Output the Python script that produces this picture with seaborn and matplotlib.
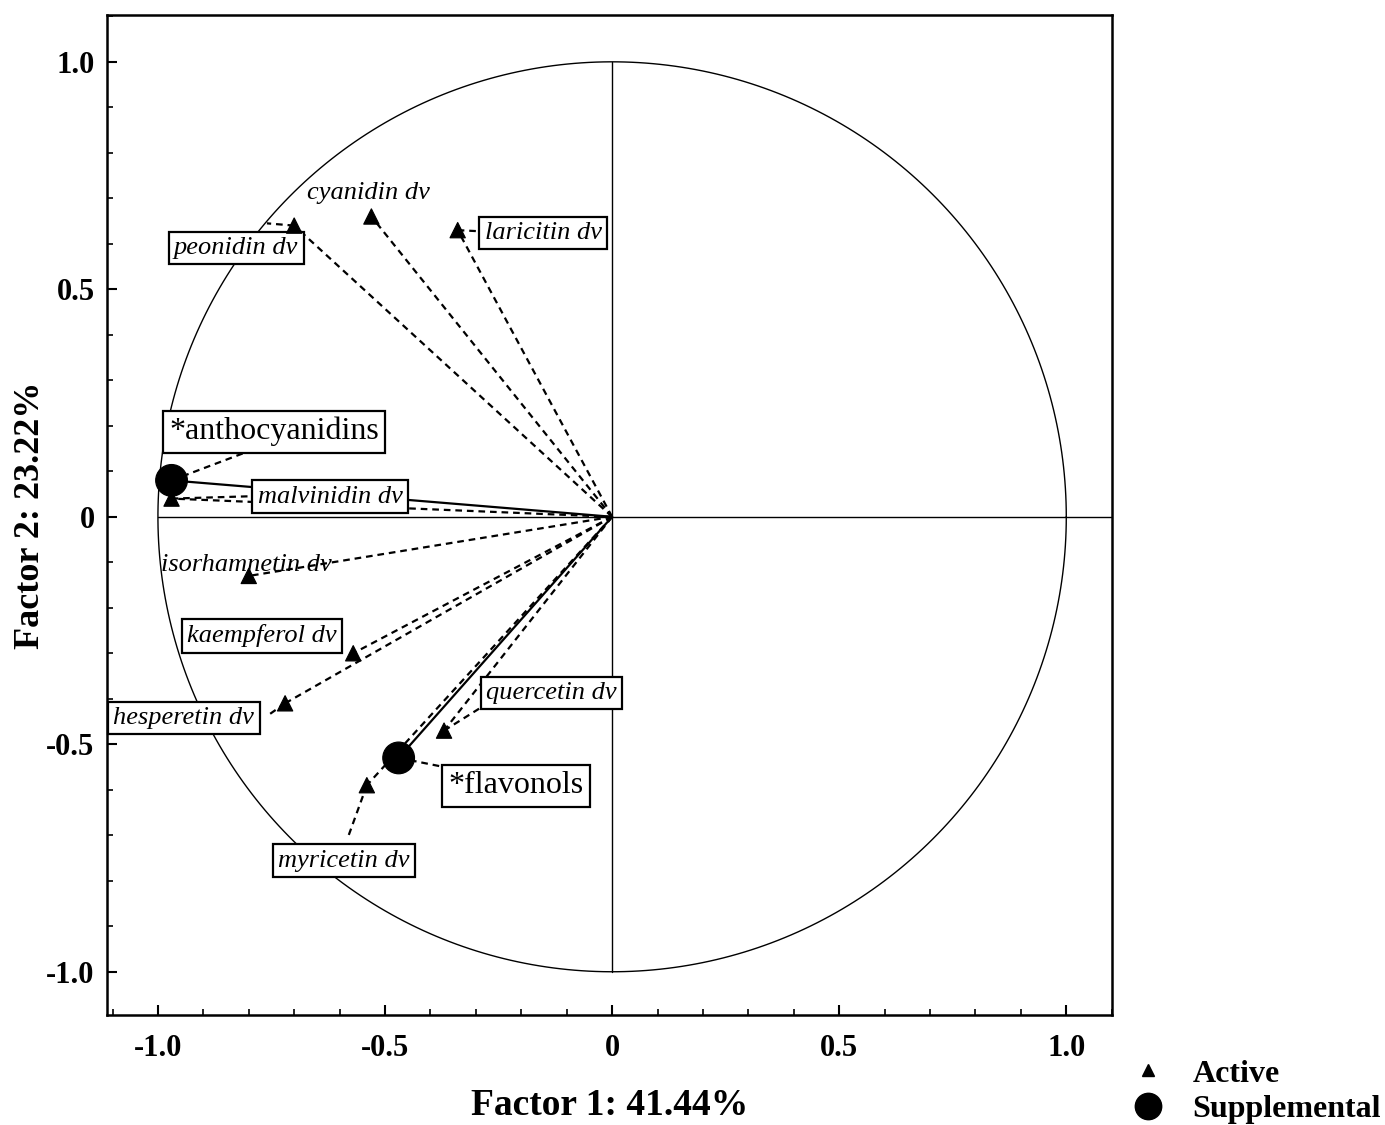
import numpy as np
import pandas as pd
import seaborn as sns
import matplotlib.pyplot as plt
from matplotlib.lines import Line2D
from matplotlib.ticker import MultipleLocator

# Factor loadings
active_names = ['peonidin dv', 'cyanidin dv', 'laricitin dv', 'malvinidin dv',
                'isorhamnetin dv', 'kaempferol dv', 'hesperetin dv',
                'quercetin dv', 'myricetin dv']
active_f1 = [-0.70, -0.53, -0.34, -0.97, -0.80, -0.57, -0.72, -0.37, -0.54]
active_f2 = [0.64, 0.66, 0.63, 0.04, -0.13, -0.30, -0.41, -0.47, -0.59]

supp_names = ['*anthocyanidins', '*flavonols']
supp_f1 = [-0.97, -0.47]
supp_f2 = [0.08, -0.53]

x_label = 'Factor 1: 41.44%'
y_label = 'Factor 2: 23.22%'
tick_vals = [-1.0, -0.5, 0, 0.5, 1.0]
tick_text = ['-1.0', '-0.5', '0', '0.5', '1.0']

# label layout: (x, y, boxed, connector end point) in data coords
label_layout = {
    'peonidin dv': (-0.828, 0.591, True, (-0.76, 0.645)),
    'cyanidin dv': (-0.537, 0.712, False, None),
    'laricitin dv': (-0.152, 0.624, True, (-0.30, 0.628)),
    'malvinidin dv': (-0.621, 0.044, True, (-0.80, 0.045)),
    'isorhamnetin dv': (-0.806, -0.105, False, None),
    'kaempferol dv': (-0.771, -0.262, True, None),
    'hesperetin dv': (-0.943, -0.442, True, (-0.76, -0.438)),
    'quercetin dv': (-0.134, -0.387, True, (-0.29, -0.42)),
    'myricetin dv': (-0.590, -0.756, True, (-0.58, -0.70)),
    '*anthocyanidins': (-0.744, 0.187, True, (-0.79, 0.148)),
    '*flavonols': (-0.211, -0.591, True, (-0.37, -0.55)),
}

df = pd.DataFrame({
    'f1': active_f1 + supp_f1,
    'f2': active_f2 + supp_f2,
    'name': active_names + supp_names,
    'type': ['Active'] * len(active_names) + ['Supplemental'] * len(supp_names),
})

sns.set_style('ticks', {'axes.edgecolor': 'black', 'text.color': 'black',
                        'axes.labelcolor': 'black', 'xtick.color': 'black',
                        'ytick.color': 'black'})
plt.rcParams['font.family'] = ['Liberation Serif', 'DejaVu Serif']

fig = plt.figure(figsize=(13.85, 11.25), dpi=100)
ax = fig.add_axes([0.0773, 0.0978, 0.7257, 0.8889])

# unit circle and reference axes
t = np.linspace(0, 2 * np.pi, 400)
ax.plot(np.cos(t), np.sin(t), color='black', lw=1.0, zorder=1)
ax.plot([-1.0, 1.12], [0, 0], color='black', lw=1.0, zorder=1)
ax.plot([0, 0], [-1.0, 1.0], color='black', lw=1.0, zorder=1)

# vectors from origin
for _, r in df.iterrows():
    ls = '-' if r['type'] == 'Supplemental' else (0, (3, 2.2))
    ax.plot([0, r['f1']], [0, r['f2']], color='black', lw=1.6, ls=ls, zorder=2)

sns.scatterplot(data=df, x='f1', y='f2', style='type',
                markers={'Active': '^', 'Supplemental': 'o'},
                size='type', sizes={'Active': 120, 'Supplemental': 520},
                color='black', edgecolor='black', legend=False, ax=ax, zorder=4)

# labels with connectors
for _, r in df.iterrows():
    lx, ly, boxed, conn = label_layout[r['name']]
    supp = r['type'] == 'Supplemental'
    if conn is not None:
        ax.plot([r['f1'], conn[0]], [r['f2'], conn[1]], color='black', lw=1.6,
                ls=(0, (3, 2.2)), zorder=2)
    bbox = dict(boxstyle='square,pad=0.2', fc='white', ec='black', lw=1.6) if boxed else None
    ax.text(lx, ly, r['name'], ha='center', va='center',
            fontsize=23 if supp else 19, style='normal' if supp else 'italic',
            bbox=bbox, zorder=3)

ax.set_xlim(-1.112, 1.101)
ax.set_ylim(-1.095, 1.103)
ax.set_xticks(tick_vals)
ax.set_xticklabels(tick_text)
ax.set_yticks(tick_vals)
ax.set_yticklabels(tick_text)
ax.xaxis.set_minor_locator(MultipleLocator(0.1))
ax.yaxis.set_minor_locator(MultipleLocator(0.1))
ax.tick_params(which='both', direction='in', top=False, right=False)
ax.tick_params(which='major', length=7, width=1.5, labelsize=22)
ax.tick_params(axis='x', which='major', pad=14)
ax.tick_params(axis='y', which='major', pad=9)
ax.tick_params(which='minor', length=4, width=1.2)
for lab in ax.get_xticklabels() + ax.get_yticklabels():
    lab.set_fontweight('bold')
for s in ax.spines.values():
    s.set_linewidth(1.8)

ax.set_xlabel(x_label, fontsize=27, fontweight='bold', labelpad=18)
ax.set_ylabel(y_label, fontsize=26, fontweight='bold')
ax.yaxis.set_label_coords(-0.06, 0.5)

handles = [
    Line2D([], [], marker='^', color='black', ls='none', markersize=9),
    Line2D([], [], marker='o', color='black', ls='none', markersize=19),
]
fig.legend(handles, ['Active', 'Supplemental'], loc='lower right',
           bbox_to_anchor=(1.018, -0.025), frameon=False,
           prop={'family': 'Liberation Serif', 'weight': 'bold', 'size': 23},
           handletextpad=0.4, labelspacing=0.2)

fig.savefig('out.png', dpi=100)
